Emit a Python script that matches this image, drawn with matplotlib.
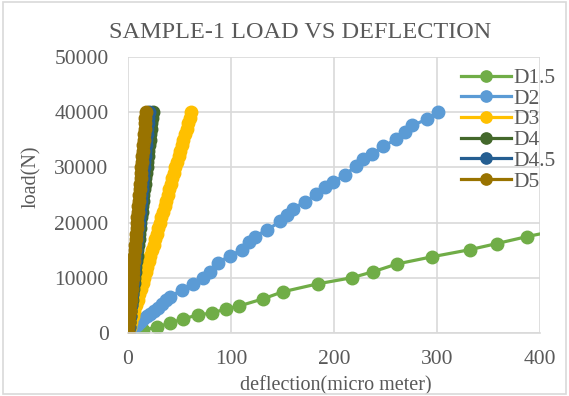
import matplotlib
matplotlib.use("Agg")
import matplotlib.pyplot as plt
from matplotlib.patches import Rectangle

title = "SAMPLE-1 LOAD VS DEFLECTION"
series_names = ["D1.5", "D2", "D3", "D4", "D4.5", "D5"]
colors = ["#70AD47", "#5B9BD5", "#FFC000", "#43682B", "#255E91", "#997300"]

# D1.5
d15_x = [0, 15, 28, 41, 53, 68, 82, 95, 108, 131, 150, 184, 217, 238, 261, 295, 332, 358, 387, 425]
d15_y = [0, 500, 1090, 1800, 2550, 3270, 3640, 4360, 4900, 6180, 7450, 8900, 10000, 11100, 12500,
         13800, 15100, 16200, 17450, 18900]

# D2
d2_x = [0, 3, 6, 9, 12, 15, 18, 21, 25, 29, 33, 37, 41, 52, 63, 73, 80, 87, 99, 111, 117, 123, 135,
        148, 154, 160, 172, 183, 191, 199, 211, 221, 228, 237, 248, 260, 269, 276, 290, 301]
d2_y = [0, 500, 1000, 1500, 2000, 2500, 3000, 3500, 4000, 4600, 5200, 5900, 6550, 7800, 8900, 10000,
        11100, 12700, 14000, 15100, 16400, 17450, 18700, 20200, 21450, 22500, 23800, 25100, 26400,
        27300, 28700, 30200, 31450, 32400, 33800, 35100, 36400, 37600, 38700, 40000]

# common load steps for the stiff samples
loads = [0, 1000, 2000, 3000, 4000, 5000, 6000, 7000, 8000, 9000, 10000, 11000, 12000, 13000,
         14000, 15000, 16000, 17000, 18000, 19000, 20000, 21000, 22000, 23000, 24000, 25000, 26000,
         27000, 28000, 29000, 30000, 31000, 32000, 33000, 34000, 35000, 36000, 37000, 38000, 39000,
         40000]
d3_x = [0, 1.6, 3.2, 4.7, 6.3, 7.9, 9.4, 11.0, 12.5, 14.1, 15.6, 17.2, 18.7, 20.2, 21.8, 23.3,
        24.8, 26.3, 27.9, 29.4, 30.9, 32.4, 34.0, 35.5, 37.0, 38.5, 40.1, 41.6, 43.1, 44.6, 46.1,
        47.7, 49.2, 50.7, 52.2, 53.8, 55.3, 56.8, 58.4, 59.9, 61.5]
d4_x = [0, 0.6, 1.2, 1.8, 2.4, 3.0, 3.6, 4.2, 4.8, 5.4, 6.0, 6.6, 7.2, 7.8, 8.4, 9.0, 9.6, 10.2,
        10.8, 11.4, 12.0, 12.6, 13.2, 13.8, 14.4, 15.0, 15.6, 16.2, 16.8, 17.4, 18.0, 18.6, 19.2,
        19.8, 20.4, 21.0, 21.6, 22.2, 22.8, 23.4, 24.0]
d45_x = [0, 0.5, 1.0, 1.5, 2.0, 2.6, 3.1, 3.6, 4.1, 4.6, 5.1, 5.6, 6.1, 6.6, 7.1, 7.7, 8.2, 8.7,
         9.2, 9.7, 10.2, 10.7, 11.2, 11.7, 12.2, 12.8, 13.3, 13.8, 14.3, 14.8, 15.3, 15.8, 16.3,
         16.8, 17.3, 17.9, 18.4, 18.9, 19.4, 19.9, 20.4]
d5_x = [0, 0.4, 0.9, 1.3, 1.8, 2.2, 2.6, 3.1, 3.5, 3.9, 4.4, 4.8, 5.2, 5.7, 6.1, 6.5, 7.0, 7.4,
        7.8, 8.3, 8.7, 9.1, 9.6, 10.0, 10.4, 10.9, 11.3, 11.7, 12.2, 12.6, 13.0, 13.5, 13.9, 14.3,
        14.8, 15.2, 15.6, 16.1, 16.5, 16.9, 17.4]

x_ticks = [0, 100, 200, 300, 400]
y_ticks = [0, 10000, 20000, 30000, 40000, 50000]
x_label = "deflection(micro meter)"
y_label = "load(N)"

plt.rcParams['font.family'] = ['Liberation Serif', 'DejaVu Serif']
gray = "#595959"

fig = plt.figure(figsize=(5.69, 3.96), dpi=100)
fig.patches.append(Rectangle((0.006, 0.006), 0.988, 0.988, transform=fig.transFigure,
                             fill=False, edgecolor="#D9D9D9", linewidth=1.2))
ax = fig.add_axes([128/569, 1-333/396, 412/569, 276/396])

data = [(d15_x, d15_y), (d2_x, d2_y), (d3_x, loads), (d4_x, loads), (d45_x, loads), (d5_x, loads)]
for (xs, ys), name, c in zip(data, series_names, colors):
    ax.plot(xs, ys, color=c, linewidth=2.3, marker='o', markersize=9, label=name)

ax.set_xlim(0, 400)
ax.set_ylim(0, 50000)
ax.set_xticks(x_ticks)
ax.set_yticks(y_ticks)
ax.grid(True, color="#D9D9D9", linewidth=1.2)
ax.set_axisbelow(True)
for s in ['top', 'right', 'left']:
    ax.spines[s].set_visible(False)
ax.spines['bottom'].set_color("#D9D9D9")
ax.spines['bottom'].set_linewidth(1.2)
ax.tick_params(length=0, labelsize=15.5, labelcolor=gray)
ax.tick_params(axis='y', pad=14)
ax.tick_params(axis='x', pad=12)

ax.set_xlabel(x_label, fontsize=14.5, color=gray)
ax.set_ylabel(y_label, fontsize=14.5, color=gray)
ax.xaxis.set_label_coords(0.505, -0.155)
ax.yaxis.set_label_coords(-0.212, 0.565)

fig.text(0.527, 0.917, title, ha='center', va='center', fontsize=17.5, color=gray)

ax.legend(loc='upper left', bbox_to_anchor=(461/569, 1-68/396), bbox_transform=fig.transFigure,
          frameon=False, fontsize=15.5, labelcolor=gray, handlelength=2.3, handletextpad=0.15,
          labelspacing=0.03, borderaxespad=0, borderpad=0, markerscale=0.9)

fig.savefig("out.png", dpi=100)
